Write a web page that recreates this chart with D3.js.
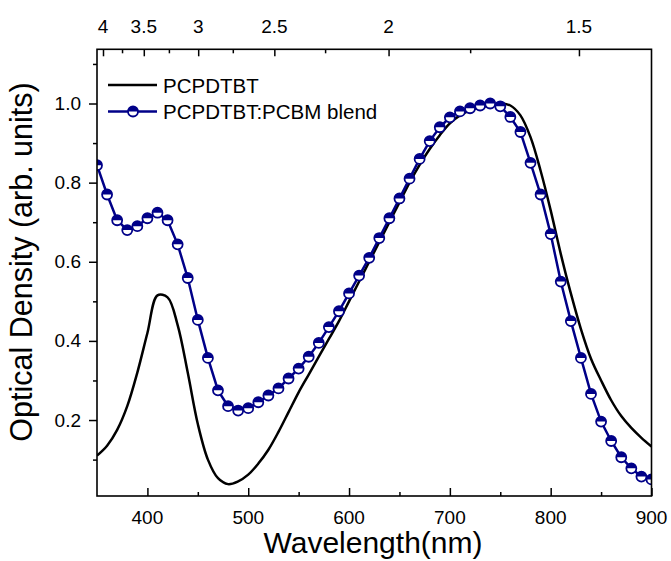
<!DOCTYPE html>
<html>
<head>
<meta charset="utf-8">
<script src="https://cdn.jsdelivr.net/npm/d3@7"></script>
<style>
  body { margin: 0; background: #fff; }
  svg { display: block; font-family: "Liberation Sans", Arial, sans-serif; }
</style>
</head>
<body>
<svg id="chart" width="671" height="561"></svg>
<script>
// wavelengths (nm) for both spectra
const wavelengths = d3.range(350, 901, 10);

// neat polymer film
const pcpdtbt = [0.11, 0.135, 0.175, 0.235, 0.32, 0.42, 0.515, 0.51, 0.44, 0.32,
  0.19, 0.10, 0.053, 0.038, 0.045, 0.062, 0.09, 0.125, 0.17, 0.22,
  0.27, 0.315, 0.36, 0.405, 0.45, 0.50, 0.55, 0.60, 0.65, 0.70,
  0.75, 0.80, 0.845, 0.885, 0.92, 0.95, 0.97, 0.983, 0.99, 0.995,
  1.0, 0.995, 0.97, 0.915, 0.83, 0.73, 0.62, 0.52, 0.43, 0.355,
  0.30, 0.25, 0.21, 0.18, 0.155, 0.133];

// blend film (markers)
const blend = [0.844, 0.770, 0.705, 0.68, 0.69, 0.71, 0.724, 0.705, 0.644, 0.559,
  0.453, 0.357, 0.275, 0.235, 0.224, 0.23, 0.245, 0.262, 0.28, 0.305,
  0.33, 0.36, 0.395, 0.435, 0.475, 0.52, 0.565, 0.61, 0.66, 0.71,
  0.76, 0.81, 0.86, 0.905, 0.94, 0.965, 0.98, 0.988, 0.995, 1.0,
  0.993, 0.966, 0.928, 0.85, 0.77, 0.67, 0.55, 0.45, 0.357, 0.266,
  0.196, 0.147, 0.106, 0.078, 0.057, 0.05];

const seriesNames = ["PCPDTBT", "PCPDTBT:PCBM blend"];

// tick labels
const xTicks = [400, 500, 600, 700, 800, 900];
const xMinor = [450, 550, 650, 750, 850];
const yTicks = [0.2, 0.4, 0.6, 0.8, 1.0];
const yMinor = [0.1, 0.3, 0.5, 0.7, 0.9, 1.1];
const eTicks = [4, 3.5, 3, 2.5, 2, 1.5];
const eMinor = [3.75, 3.25, 2.75, 2.25, 1.75];

// top axis calibration (eV -> nm position)
function eToNm(e) { return 1133 / e + 72.7; }

const svg = d3.select("#chart");
const pLeft = 97, pRight = 651.5, pTop = 49.3, pBottom = 496;

const x = d3.scaleLinear().domain([350, 900]).range([pLeft, pRight]);
const y = d3.scaleLinear().domain([0.008, 1.137]).range([pBottom, pTop]);

const blue = "#000088";

svg.append("clipPath").attr("id", "clip")
  .append("rect").attr("x", pLeft).attr("y", pTop)
  .attr("width", pRight - pLeft).attr("height", pBottom - pTop);

const plot = svg.append("g").attr("clip-path", "url(#clip)");

// neat film curve
const blackPts = wavelengths.map((w, i) => [w, pcpdtbt[i]]);
plot.append("path")
  .datum(blackPts)
  .attr("d", d3.line().x(d => x(d[0])).y(d => y(d[1])).curve(d3.curveCatmullRom))
  .attr("fill", "none")
  .attr("stroke", "#000")
  .attr("stroke-width", 2.5);

// blend line
const blendPts = wavelengths.map((w, i) => [w, blend[i]]);
plot.append("path")
  .datum(blendPts)
  .attr("d", d3.line().x(d => x(d[0])).y(d => y(d[1])))
  .attr("fill", "none")
  .attr("stroke", blue)
  .attr("stroke-width", 2.5);

// half-filled marker
function marker(g, cx, cy) {
  const r = 5;
  g.append("circle").attr("cx", cx).attr("cy", cy).attr("r", r).attr("fill", "#fff");
  g.append("path")
    .attr("d", `M${cx - r},${cy} A${r},${r} 0 0 1 ${cx + r},${cy} Z`)
    .attr("fill", blue);
  g.append("circle").attr("cx", cx).attr("cy", cy).attr("r", r)
    .attr("fill", "none").attr("stroke", blue).attr("stroke-width", 1.8);
}

const markers = svg.append("g").attr("clip-path", "url(#clip)");
blendPts.forEach(d => marker(markers, x(d[0]), y(d[1])));

// frame
svg.append("rect")
  .attr("x", pLeft).attr("y", pTop)
  .attr("width", pRight - pLeft).attr("height", pBottom - pTop)
  .attr("fill", "none").attr("stroke", "#000").attr("stroke-width", 1.6);

// bottom axis, ticks inside
const gx = svg.append("g").attr("transform", `translate(0,${pBottom})`);
gx.call(d3.axisTop(x).tickValues(xTicks).tickSize(8).tickFormat(""));
gx.append("g").call(d3.axisTop(x).tickValues(xMinor).tickSize(4).tickFormat(""));
gx.selectAll("text.lab")
  .data(xTicks).enter().append("text")
  .attr("class", "lab")
  .attr("x", d => x(d)).attr("y", 27.5)
  .attr("text-anchor", "middle")
  .attr("font-size", 19)
  .attr("fill", "#000")
  .text(d => d);

// top axis (energy), ticks inside
const gt = svg.append("g").attr("transform", `translate(0,${pTop})`);
gt.call(d3.axisBottom(x).tickValues(eTicks.map(eToNm)).tickSize(7).tickFormat(""));
gt.append("g").call(d3.axisBottom(x).tickValues(eMinor.map(eToNm)).tickSize(4).tickFormat(""));
gt.selectAll("text.lab")
  .data(eTicks).enter().append("text")
  .attr("class", "lab")
  .attr("x", d => x(eToNm(d))).attr("y", -16)
  .attr("text-anchor", "middle")
  .attr("font-size", 19)
  .attr("fill", "#000")
  .text(d => d);

// left axis, ticks outside
const gy = svg.append("g").attr("transform", `translate(${pLeft},0)`);
gy.call(d3.axisLeft(y).tickValues(yTicks).tickSize(8).tickPadding(8)
  .tickFormat(d3.format(".1f")));
gy.append("g").call(d3.axisLeft(y).tickValues(yMinor).tickSize(4).tickFormat(""));
gy.selectAll(".tick text").attr("font-size", 19).attr("fill", "#000")
  .style("font-family", "'Liberation Sans', Arial, sans-serif");

svg.selectAll("text.lab").style("font-family", "'Liberation Sans', Arial, sans-serif");
svg.selectAll(".domain").remove();
svg.selectAll(".tick line").attr("stroke", "#000").attr("stroke-width", 1.5);

// titles
svg.append("text")
  .attr("x", 373).attr("y", 553)
  .attr("text-anchor", "middle")
  .attr("font-size", 30)
  .text("Wavelength(nm)");

svg.append("text")
  .attr("transform", "translate(32,262) rotate(-90)")
  .attr("text-anchor", "middle")
  .attr("font-size", 30.5)
  .text("Optical Density (arb. units)");

// legend
const lg = svg.append("g");
lg.append("line").attr("x1", 108).attr("x2", 157).attr("y1", 85).attr("y2", 85)
  .attr("stroke", "#000").attr("stroke-width", 2.5);
lg.append("text").attr("x", 163).attr("y", 92.5).attr("font-size", 20.5).text(seriesNames[0]);
lg.append("line").attr("x1", 108).attr("x2", 157).attr("y1", 111.5).attr("y2", 111.5)
  .attr("stroke", blue).attr("stroke-width", 2.5);
marker(lg, 133, 111.5);
lg.append("text").attr("x", 163).attr("y", 119).attr("font-size", 20.5).text(seriesNames[1]);
</script>
</body>
</html>
